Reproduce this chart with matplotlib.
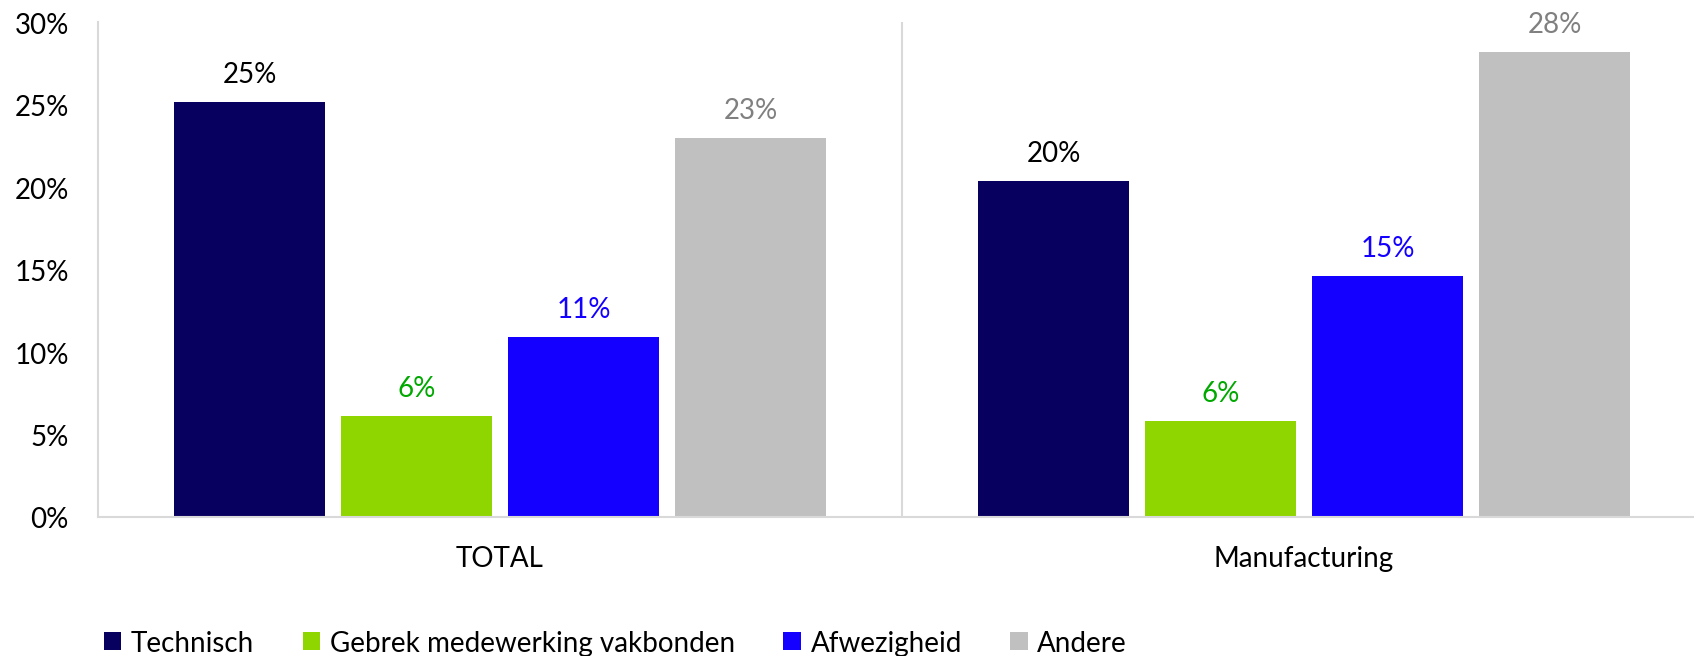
import numpy as np
import matplotlib
matplotlib.use("Agg")
import matplotlib.pyplot as plt

plt.rcParams['font.family'] = ['Lato', 'DejaVu Sans']

# data
categories = ["TOTAL", "Manufacturing"]
series = ["Technisch", "Gebrek medewerking vakbonden", "Afwezigheid", "Andere"]
technisch = [25.2, 20.4]
gebrek = [6.1, 5.8]
afwezigheid = [10.9, 14.6]
andere = [23.0, 28.2]
yticks = [0, 5, 10, 15, 20, 25, 30]

bar_colors = ["#08005E", "#8FD600", "#1400FF", "#C0C0C0"]
label_colors = ["#000000", "#00A800", "#1400FF", "#808080"]

fig = plt.figure(figsize=(16.94, 6.569), dpi=100)
ax = fig.add_axes([98/1694, 139/657, 1608/1694, 494.6/657])

x = np.arange(len(categories))
width = 0.188
step = 0.2077
offsets = [-1.5*step, -0.5*step, 0.5*step, 1.5*step]

handles = []
for i, vals in enumerate([technisch, gebrek, afwezigheid, andere]):
    b = ax.bar(x + offsets[i], vals, width, color=bar_colors[i], label=series[i])
    handles.append(b)
    for xi, v in zip(x + offsets[i], vals):
        ax.annotate(f"{round(v):.0f}%", (xi, v), xytext=(0, 14.4),
                    textcoords="offset points", ha="center", va="baseline",
                    fontsize=20, color=label_colors[i])

ax.set_xlim(-0.5, 1.5)
ax.set_ylim(0, 30)
ax.set_yticks(yticks)
ax.set_yticklabels([f"{t}%" for t in yticks])
ax.set_xticks(x)
ax.set_xticklabels(categories)
ax.tick_params(axis="y", length=0, pad=21, labelsize=20)
ax.tick_params(axis="x", length=0, pad=20, labelsize=20)

ax.axvline(0.5, color="#D9D9D9", lw=1.5)
for s in ["top", "right"]:
    ax.spines[s].set_visible(False)
for s in ["left", "bottom"]:
    ax.spines[s].set_color("#D9D9D9")
    ax.spines[s].set_linewidth(1.5)

fig.legend(handles, series, loc="upper left", bbox_to_anchor=(104/1694, 0.04),
           ncol=4, frameon=False, borderpad=0, borderaxespad=0,
           handlelength=0.62, handleheight=0.65, handletextpad=0.35,
           columnspacing=1.75, fontsize=20)

fig.savefig("out.png", dpi=100)
